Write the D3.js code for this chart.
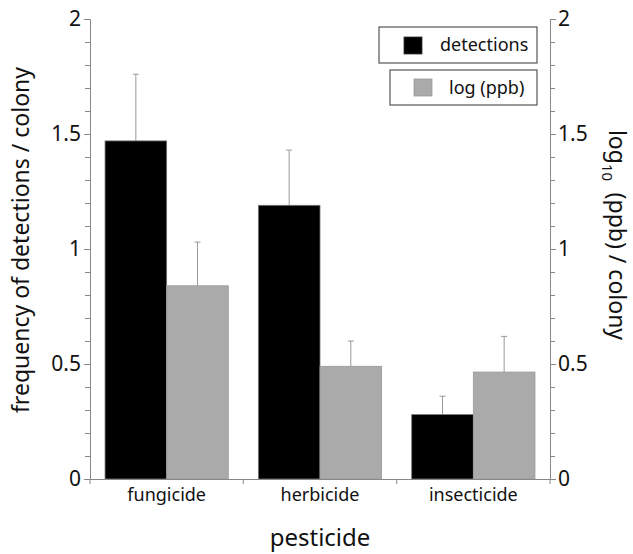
<!DOCTYPE html>
<html><head><meta charset="utf-8">
<script src="https://cdn.jsdelivr.net/npm/d3@7"></script>
<style>body{margin:0;background:#fff;} svg{display:block;} text{font-family:"Noto Sans",sans-serif;}</style>
</head><body>
<svg id="chart" width="633" height="554"></svg>
<script>
const categories = ["fungicide", "herbicide", "insecticide"];
const seriesNames = ["detections", "log (ppb)"];
const detections = [1.47, 1.19, 0.28];
const detectionsErr = [0.29, 0.24, 0.08];
const logppb = [0.84, 0.49, 0.465];
const logppbErr = [0.19, 0.11, 0.155];
const yTicks = [0, 0.5, 1, 1.5, 2];
const colors = ["#000000", "#aaaaaa"];

const svg = d3.select("#chart");
const m = {left: 90, right: 83, top: 19, bottom: 75};
const W = 633, H = 554;
const x0 = m.left, x1 = W - m.right, yb = H - m.bottom, yt = m.top;

const x = d3.scaleBand().domain(categories).range([x0, x1]).paddingInner(0).paddingOuter(0);
const xs = d3.scaleBand().domain(seriesNames).range([0, x.bandwidth()]).paddingInner(0).paddingOuter(0.244);
const yL = d3.scaleLinear().domain([0, 2]).range([yb, yt]);
const yR = d3.scaleLinear().domain([0, 2]).range([yb, yt]);

const axisColor = "#888";

const data = categories.map((c, i) => [
  {c, s: seriesNames[0], v: detections[i], e: detectionsErr[i], y: yL},
  {c, s: seriesNames[1], v: logppb[i], e: logppbErr[i], y: yR}
]).flat();

// error bars
const eb = svg.append("g");
data.forEach(d => {
  const cx = x(d.c) + xs(d.s) + xs.bandwidth() / 2;
  eb.append("line").attr("x1", cx).attr("x2", cx).attr("y1", d.y(d.v)).attr("y2", d.y(d.v + d.e))
    .attr("stroke", "#999").attr("stroke-width", 1);
  eb.append("line").attr("x1", cx - 3).attr("x2", cx + 3).attr("y1", d.y(d.v + d.e)).attr("y2", d.y(d.v + d.e))
    .attr("stroke", "#999").attr("stroke-width", 1);
});

svg.append("g").selectAll("rect").data(data).join("rect")
  .attr("x", d => x(d.c) + xs(d.s))
  .attr("width", xs.bandwidth())
  .attr("y", d => d.y(d.v))
  .attr("height", d => yb - d.y(d.v))
  .attr("fill", d => colors[seriesNames.indexOf(d.s)])
  .attr("stroke", d => d.s === seriesNames[0] ? "#777" : "#999")
  .attr("stroke-width", 0.8);

function styleAxis(g) {
  g.selectAll(".domain").attr("stroke", axisColor);
  g.selectAll(".tick line").attr("stroke", axisColor);
  g.selectAll(".tick text").attr("fill", "#111").style("font-size", "21px");
}
const minor = d3.range(0, 2.0001, 0.1);
const gL = svg.append("g").attr("transform", `translate(${x0},0)`)
  .call(d3.axisLeft(yL).tickValues(minor).tickFormat("").tickSize(5).tickSizeOuter(0));
styleAxis(gL);
const gL2 = svg.append("g").attr("transform", `translate(${x0},0)`)
  .call(d3.axisLeft(yL).tickValues(yTicks).tickFormat(d3.format("")).tickSize(6).tickSizeOuter(0).tickPadding(3));
styleAxis(gL2);
const gR = svg.append("g").attr("transform", `translate(${x1},0)`)
  .call(d3.axisRight(yR).tickValues(minor).tickFormat("").tickSize(5).tickSizeOuter(0));
styleAxis(gR);
const gR2 = svg.append("g").attr("transform", `translate(${x1},0)`)
  .call(d3.axisRight(yR).tickValues(yTicks).tickFormat(d3.format("")).tickSize(6).tickSizeOuter(0).tickPadding(2));
styleAxis(gR2);

const gX = svg.append("g").attr("transform", `translate(0,${yb})`)
  .call(d3.axisBottom(x).tickSize(0).tickPadding(9));
gX.selectAll(".domain").attr("stroke", axisColor);
gX.selectAll(".tick text").attr("fill", "#111").style("font-size", "18px");
const bounds = [x0].concat(categories.map(c => x(c) + x.bandwidth()));
svg.append("g").selectAll("line").data(bounds).join("line")
  .attr("x1", d => d).attr("x2", d => d).attr("y1", yb).attr("y2", yb + 5)
  .attr("stroke", axisColor);

svg.append("text").attr("transform", `translate(29,${(yt + yb) / 2 - 9}) rotate(-90)`)
  .attr("text-anchor", "middle").attr("fill", "#111").style("font-size", "23px").text("frequency of detections / colony");

const rt = svg.append("text").attr("transform", `translate(609,${(yt + yb) / 2 - 14}) rotate(90)`)
  .attr("text-anchor", "middle").attr("fill", "#111").style("font-size", "23px");
rt.append("tspan").text("log");
rt.append("tspan").attr("dy", 7).style("font-size", "15px").text("10");
rt.append("tspan").attr("dy", -7).text("\u2002(ppb) / colony");

svg.append("text").attr("x", (x0 + x1) / 2).attr("y", 546).attr("text-anchor", "middle")
  .attr("fill", "#111").style("font-size", "24px").text("pesticide");

const leg = [
  {name: seriesNames[0], box: [379, 27, 158, 36], sw: [404, 37], tx: 440},
  {name: seriesNames[1], box: [390, 70, 147, 35], sw: [414, 79], tx: 449}
];
leg.forEach((l, i) => {
  svg.append("rect").attr("x", l.box[0]).attr("y", l.box[1]).attr("width", l.box[2]).attr("height", l.box[3])
    .attr("fill", "#fff").attr("stroke", "#555").attr("stroke-width", 1.2);
  svg.append("rect").attr("x", l.sw[0]).attr("y", l.sw[1]).attr("width", 18).attr("height", 17)
    .attr("fill", colors[i]).attr("stroke", i === 0 ? "#333" : "#999").attr("stroke-width", 0.8);
  svg.append("text").attr("x", l.tx).attr("y", l.box[1] + l.box[3] / 2 + 6).attr("fill", "#111")
    .style("font-size", "18px").text(l.name);
});
</script>
</body></html>
